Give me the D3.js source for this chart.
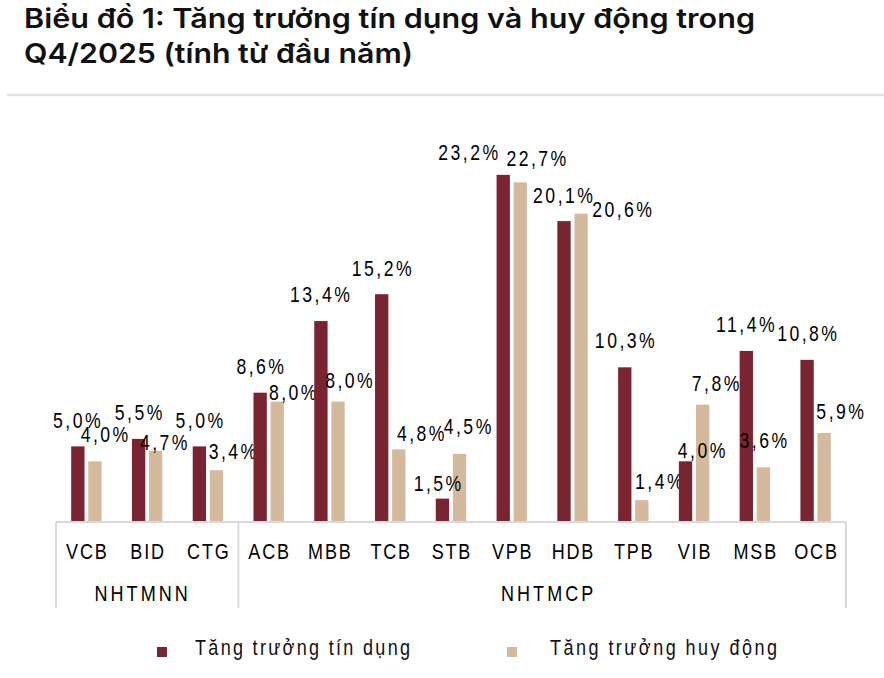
<!DOCTYPE html>
<html>
<head>
<meta charset="utf-8">
<script src="https://cdn.jsdelivr.net/npm/d3@7"></script>
<style>
  html, body { margin: 0; padding: 0; background: #fff; }
  svg { display: block; }
</style>
</head>
<body>
<svg id="chart" width="884" height="678"></svg>
<script>
// ---------- data ----------
const titleLines = ["Biểu đồ 1: Tăng trưởng tín dụng và huy động trong", "Q4/2025 (tính từ đầu năm)"];
const categories = ["VCB","BID","CTG","ACB","MBB","TCB","STB","VPB","HDB","TPB","VIB","MSB","OCB"];
const creditGrowth  = [5.0, 5.5, 5.0, 8.6, 13.4, 15.2, 1.5, 23.2, 20.1, 10.3, 4.0, 11.4, 10.8];
const depositGrowth = [4.0, 4.7, 3.4, 8.0,  8.0,  4.8, 4.5, 22.7, 20.6,  1.4, 7.8,  3.6,  5.9];
const groupNames = ["NHTMNN", "NHTMCP"];
const groupSizes = [3, 10];
const seriesNames = ["Tăng trưởng tín dụng", "Tăng trưởng huy động"];

// label nudges (dx, dy) relative to default spot above each bar, as placed in the original
const creditNudge  = [[-1,1],[0,0],[0,1],[0,0],[-1,0],[0,1],[-5,11],[-35,4],[-1,1],[0,0],[16,16],[-1,0],[0,0]];
const depositNudge = [[9.5,0],[8,18],[16,8],[15.5,17],[11,5],[22,11],[8,-1],[16,3],[41,22],[17,8],[13,5],[0,0],[16,5]];

// ---------- layout ----------
const W = 884, H = 678;
const plotLeft = 56, plotRight = 846;
const baseY = 521, topY = 148;
const colors = ["#7A2331", "#D4B99D"];
const gridColor = "#d9d9d9";
const SX = 0.82; // narrow-font emulation
const narrow = "'Liberation Sans', Arial, sans-serif";

const svg = d3.select("#chart");

// title
const titleWidths = [731, 389];
svg.append("g").selectAll("text").data(titleLines).join("text")
  .attr("x", 24)
  .attr("y", (d, i) => 28 + i * 35)
  .attr("font-family", "Inter, 'Liberation Sans', sans-serif")
  .attr("font-weight", 600)
  .attr("font-size", 27)
  .attr("textLength", (d, i) => titleWidths[i])
  .attr("lengthAdjust", "spacingAndGlyphs")
  .attr("fill", "#111")
  .text(d => d);

svg.append("line")
  .attr("x1", 7).attr("x2", W).attr("y1", 95).attr("y2", 95)
  .attr("stroke", "#e3e3e3").attr("stroke-width", 2.5);

// scales
const x = d3.scaleBand().domain(categories).range([plotLeft, plotRight])
  .paddingInner(0.5).paddingOuter(0.25);
const xs = d3.scaleBand().domain([0, 1]).range([0, x.bandwidth()]).paddingInner(0.22);
const y = d3.scaleLinear().domain([0, 25]).range([baseY, topY]);

const rows = categories.map((c, i) => ({
  cat: c,
  values: [creditGrowth[i], depositGrowth[i]],
  nudges: [creditNudge[i], depositNudge[i]]
}));

const fmt = v => v.toFixed(1).replace(".", ",") + "%";

// bars
const gBars = svg.append("g");
const cg = gBars.selectAll("g").data(rows).join("g")
  .attr("transform", d => `translate(${x(d.cat)},0)`);
cg.selectAll("rect").data(d => d.values.map((v, s) => ({ v, s }))).join("rect")
  .attr("x", d => xs(d.s))
  .attr("width", xs.bandwidth())
  .attr("y", d => y(d.v))
  .attr("height", d => y(0) - y(d.v))
  .attr("fill", d => colors[d.s]);

// value labels
const ls = 3.0;
cg.selectAll("text").data(d => d.values.map((v, s) => ({ v, s, n: d.nudges[s] }))).join("text")
  .attr("transform", d => `translate(${xs(d.s) + xs.bandwidth() / 2 + d.n[0] + ls * SX / 2},${y(d.v) - 19 + d.n[1]}) scale(${SX},1)`)
  .attr("text-anchor", "middle")
  .attr("font-family", narrow)
  .attr("font-size", 21.5)
  .attr("letter-spacing", ls)
  .attr("fill", "#000")
  .text(d => fmt(d.v));

// axis
const axisG = svg.append("g").attr("transform", `translate(0,${baseY})`)
  .call(d3.axisBottom(x).tickSize(0).tickPadding(0));
axisG.select(".domain").remove();
const catLs = 2.2;
axisG.selectAll(".tick text")
  .attr("y", 0).attr("dy", null)
  .attr("transform", `translate(${catLs * SX / 2},${559 - baseY}) scale(${SX},1)`)
  .attr("font-family", narrow)
  .attr("font-size", 22)
  .attr("letter-spacing", catLs)
  .attr("fill", "#000");

// axis frame lines
const frame = svg.append("g").attr("stroke", gridColor).attr("stroke-width", 2).attr("fill", "none");
frame.append("line").attr("x1", plotLeft).attr("x2", plotRight).attr("y1", 522).attr("y2", 522);
const boundaryX = i => i === categories.length ? plotRight : x(categories[i]) + x.bandwidth() / 2 - x.step() / 2;
const bounds = [0];
groupSizes.forEach(s => bounds.push(bounds[bounds.length - 1] + s));
frame.selectAll("line.v").data(bounds).join("line").attr("class", "v")
  .attr("x1", d => boundaryX(d)).attr("x2", d => boundaryX(d))
  .attr("y1", 522).attr("y2", 608);

// group labels
const groupNudge = [-6, 5];
const grpLs = 3.7;
svg.append("g").selectAll("text").data(groupNames).join("text")
  .attr("transform", (d, i) => `translate(${(boundaryX(bounds[i]) + boundaryX(bounds[i + 1])) / 2 + groupNudge[i] + grpLs * SX / 2},601) scale(${SX},1)`)
  .attr("text-anchor", "middle")
  .attr("font-family", narrow)
  .attr("font-size", 22)
  .attr("letter-spacing", grpLs)
  .attr("fill", "#000")
  .text(d => d);

// legend
const legendItems = [
  { name: seriesNames[0], color: colors[0], sq: 157, tx: 195, tw: 215 },
  { name: seriesNames[1], color: colors[1], sq: 507, tx: 550, tw: 227 }
];
const lg = svg.append("g");
lg.selectAll("rect").data(legendItems).join("rect")
  .attr("x", d => d.sq).attr("y", 647).attr("width", 10).attr("height", 10)
  .attr("fill", d => d.color);
lg.selectAll("text").data(legendItems).join("text")
  .attr("transform", d => `translate(${d.tx},655) scale(${SX},1)`)
  .attr("font-family", narrow)
  .attr("font-size", 22)
  .attr("textLength", d => d.tw / SX)
  .attr("lengthAdjust", "spacing")
  .attr("fill", "#111")
  .text(d => d.name);
</script>
</body>
</html>
